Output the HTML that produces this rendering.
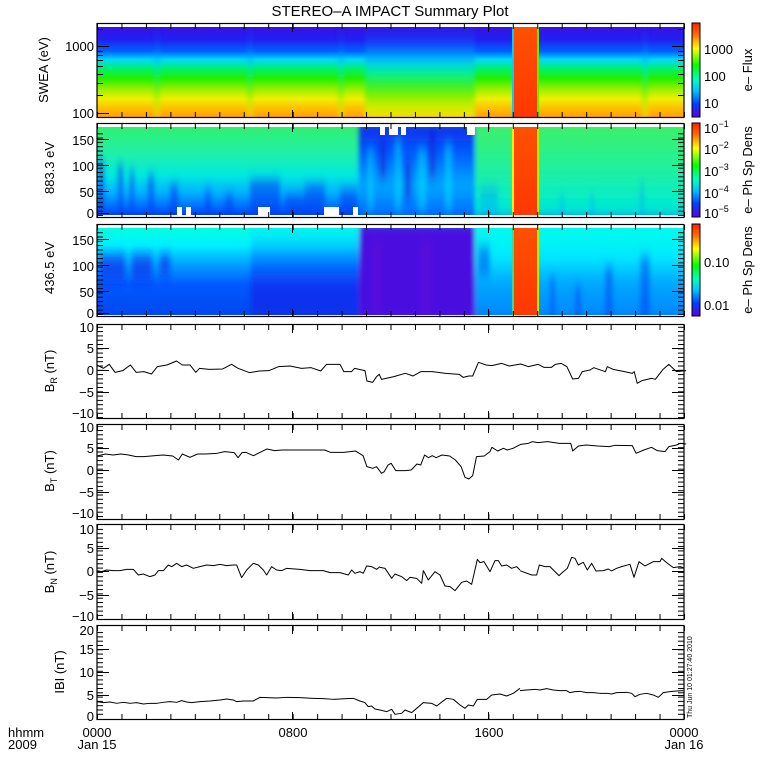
<!DOCTYPE html>
<html><head><meta charset="utf-8"><style>
html,body{margin:0;padding:0;background:#fff;}
svg{display:block;font-family:"Liberation Sans",sans-serif;}
</style></head><body>
<svg width="780" height="780" viewBox="0 0 780 780" xmlns="http://www.w3.org/2000/svg">
<defs>
<filter id="bl" x="-50%" y="-50%" width="200%" height="200%"><feGaussianBlur stdDeviation="2.5 6"/></filter>
<clipPath id="c1"><rect x="97" y="27" width="587" height="90"/></clipPath>
<clipPath id="c2"><rect x="97" y="127" width="587" height="88"/></clipPath>
<clipPath id="c3"><rect x="97" y="228" width="587" height="87"/></clipPath>
<linearGradient id="cb" x1="0" y1="0" x2="0" y2="1">
<stop offset="0" stop-color="#ff2000"/><stop offset="0.12" stop-color="#ff6a00"/><stop offset="0.27" stop-color="#ffff00"/><stop offset="0.45" stop-color="#00ff00"/><stop offset="0.6" stop-color="#00ffc0"/><stop offset="0.72" stop-color="#00c0ff"/><stop offset="0.86" stop-color="#0040ff"/><stop offset="1" stop-color="#6000e0"/>
</linearGradient>
<linearGradient id="g1" x1="0" y1="0" x2="0" y2="1">
<stop offset="0" stop-color="#3a10e8"/><stop offset="0.14" stop-color="#2020f0"/><stop offset="0.27" stop-color="#0060ff"/><stop offset="0.36" stop-color="#00d8ff"/><stop offset="0.46" stop-color="#00f070"/><stop offset="0.57" stop-color="#20f000"/><stop offset="0.7" stop-color="#a0f000"/><stop offset="0.8" stop-color="#f0f000"/><stop offset="0.9" stop-color="#ffc000"/><stop offset="1" stop-color="#ffa000"/>
</linearGradient>
<linearGradient id="g1m" x1="0" y1="0" x2="0" y2="1">
<stop offset="0" stop-color="#3a10e8"/><stop offset="0.16" stop-color="#2020f0"/><stop offset="0.3" stop-color="#0060ff"/><stop offset="0.4" stop-color="#00d8ff"/><stop offset="0.52" stop-color="#00f070"/><stop offset="0.66" stop-color="#40f000"/><stop offset="0.8" stop-color="#c0f000"/><stop offset="0.92" stop-color="#f8e000"/><stop offset="1" stop-color="#ffc000"/>
</linearGradient>
<linearGradient id="g2" x1="0" y1="0" x2="0" y2="1">
<stop offset="0" stop-color="#30f070"/><stop offset="0.3" stop-color="#20f0a8"/><stop offset="0.55" stop-color="#00e8e0"/><stop offset="0.75" stop-color="#00b0ff"/><stop offset="0.9" stop-color="#0070ff"/><stop offset="1" stop-color="#0040f0"/>
</linearGradient>
<linearGradient id="g2m" x1="0" y1="0" x2="0" y2="1">
<stop offset="0" stop-color="#1020e8"/><stop offset="0.35" stop-color="#0060ff"/><stop offset="0.65" stop-color="#00a8ff"/><stop offset="1" stop-color="#0060ff"/>
</linearGradient>
<linearGradient id="g2r" x1="0" y1="0" x2="0" y2="1">
<stop offset="0" stop-color="#40f060"/><stop offset="0.5" stop-color="#20f0a0"/><stop offset="0.85" stop-color="#00ecd0"/><stop offset="1" stop-color="#00d0e0"/>
</linearGradient>
<linearGradient id="g3" x1="0" y1="0" x2="0" y2="1">
<stop offset="0" stop-color="#00ffe0"/><stop offset="0.2" stop-color="#00f0ff"/><stop offset="0.42" stop-color="#00a0ff"/><stop offset="0.65" stop-color="#0058ff"/><stop offset="1" stop-color="#0048f0"/>
</linearGradient>
<linearGradient id="g3l" x1="0" y1="0" x2="0" y2="1">
<stop offset="0" stop-color="#00ffe0"/><stop offset="0.2" stop-color="#00e0ff"/><stop offset="0.42" stop-color="#0070ff"/><stop offset="0.65" stop-color="#1030f0"/><stop offset="1" stop-color="#1030e8"/>
</linearGradient>
<linearGradient id="g3r" x1="0" y1="0" x2="0" y2="1">
<stop offset="0" stop-color="#00ffe8"/><stop offset="0.35" stop-color="#00eaff"/><stop offset="0.6" stop-color="#00a8ff"/><stop offset="1" stop-color="#0080ff"/>
</linearGradient>
<linearGradient id="band" x1="0" y1="0" x2="0" y2="1">
<stop offset="0" stop-color="#ff5000"/><stop offset="1" stop-color="#ff3800"/>
</linearGradient>
<pattern id="xt" x="97" y="0" width="24.458" height="800" patternUnits="userSpaceOnUse"><rect x="0" y="0" width="1" height="800" fill="#000"/></pattern>
<pattern id="yt" x="0" y="0" width="10" height="4.3" patternUnits="userSpaceOnUse"><rect x="0" y="0" width="10" height="1" fill="#000"/></pattern>
</defs>

<text x="390" y="16" font-size="15" text-anchor="middle">STEREO–A IMPACT Summary Plot</text>

<!-- Panel 1 -->
<g clip-path="url(#c1)">
<rect x="97" y="27" width="587" height="90" fill="url(#g1)"/>
<g filter="url(#bl)">
<rect x="365" y="20" width="110" height="105" fill="url(#g1m)"/>
<rect x="154" y="20" width="6" height="105" fill="url(#g1m)" opacity="0.6"/>
<rect x="247" y="20" width="6" height="105" fill="url(#g1m)" opacity="0.6"/>
<rect x="338" y="20" width="6" height="105" fill="url(#g1m)" opacity="0.6"/>
<rect x="642" y="20" width="6" height="105" fill="url(#g1m)" opacity="0.7"/>
</g>
</g>
<rect x="513" y="27" width="25" height="90" fill="url(#band)"/>
<rect x="512" y="27" width="2" height="90" fill="#00d0ff"/>
<rect x="537" y="27" width="2" height="90" fill="#60f000"/>

<!-- Panel 2 -->
<g clip-path="url(#c2)">
<rect x="97" y="127" width="587" height="88" fill="url(#g2)"/>
<g opacity="0.6" fill="#0040f0" filter="url(#bl)">
<rect x="98" y="160" width="6" height="60"/><rect x="118" y="165" width="5" height="55"/><rect x="130" y="170" width="4" height="50"/>
<rect x="148" y="175" width="6" height="45"/><rect x="170" y="185" width="8" height="35"/><rect x="205" y="190" width="6" height="30"/>
<rect x="250" y="180" width="30" height="40"/><rect x="285" y="195" width="20" height="25"/><rect x="305" y="185" width="20" height="35"/>
<rect x="340" y="190" width="18" height="30"/><rect x="225" y="195" width="8" height="25"/>
</g>
<g filter="url(#bl)">
<rect x="359" y="120" width="116" height="100" fill="url(#g2m)"/>
<g opacity="0.5" fill="#00e8ff"><rect x="368" y="150" width="5" height="60"/><rect x="395" y="140" width="6" height="70"/><rect x="418" y="150" width="8" height="60"/><rect x="445" y="145" width="7" height="65"/></g>
<g opacity="0.6" fill="#1010d0"><rect x="380" y="140" width="6" height="40"/><rect x="405" y="160" width="6" height="40"/><rect x="430" y="130" width="5" height="50"/></g>
<rect x="475" y="120" width="215" height="100" fill="url(#g2r)"/>
<g opacity="0.4" fill="#00a0ff"><rect x="480" y="185" width="18" height="35"/><rect x="560" y="195" width="4" height="25"/><rect x="590" y="195" width="4" height="25"/><rect x="640" y="180" width="4" height="40"/></g>
</g>
</g>
<rect x="513" y="127" width="25" height="88" fill="url(#band)"/>
<rect x="512" y="127" width="2" height="88" fill="#f0f000"/>
<rect x="537" y="127" width="2" height="88" fill="#c0f000"/>
<g fill="#fff">
<rect x="177" y="207" width="5" height="9"/><rect x="186" y="207" width="5" height="9"/><rect x="258" y="207" width="12" height="9"/><rect x="324" y="207" width="15" height="9"/><rect x="353" y="207" width="5" height="9"/>
<rect x="380" y="126" width="5" height="9"/><rect x="389" y="126" width="9" height="9"/><rect x="401" y="126" width="5" height="9"/><rect x="467" y="126" width="8" height="9"/>
</g>

<!-- Panel 3 -->
<g clip-path="url(#c3)">
<rect x="97" y="228" width="587" height="87" fill="url(#g3)"/>
<g filter="url(#bl)">
<g opacity="0.6" fill="#1020e8"><rect x="100" y="255" width="25" height="25"/><rect x="132" y="255" width="20" height="25"/><rect x="160" y="255" width="10" height="20"/></g>
<rect x="251" y="222" width="108" height="100" fill="url(#g3l)"/>
<rect x="359" y="222" width="116" height="100" fill="#4a10e0"/>
<g opacity="0.5" fill="#6000d8"><rect x="372" y="240" width="10" height="75"/><rect x="420" y="240" width="12" height="75"/></g>
<rect x="475" y="222" width="215" height="100" fill="url(#g3r)"/>
<g opacity="0.5" fill="#0040f0"><rect x="478" y="245" width="12" height="30"/><rect x="550" y="275" width="5" height="45"/><rect x="575" y="285" width="6" height="35"/><rect x="605" y="265" width="8" height="55"/><rect x="640" y="255" width="10" height="65"/></g>
</g>
</g>
<rect x="513" y="228" width="25" height="87" fill="url(#band)"/>
<rect x="512" y="228" width="2" height="87" fill="#30e090"/>
<rect x="537" y="228" width="2" height="87" fill="#c0f000"/>

<!-- frames -->
<g fill="none" stroke="#000" stroke-width="1.2">
<rect x="97" y="23.5" width="587" height="94"/>
<rect x="97" y="123.5" width="587" height="94"/>
<rect x="97" y="224.5" width="587" height="92"/>
<rect x="97" y="324.5" width="587" height="94"/>
<rect x="97" y="424.5" width="587" height="95"/>
<rect x="97" y="524.5" width="587" height="95"/>
<rect x="97" y="625.5" width="587" height="94"/>
</g>

<g fill="url(#xt)">
<rect x="97" y="24" width="588" height="5"/><rect x="97" y="112" width="588" height="5"/>
<rect x="97" y="124" width="588" height="5"/><rect x="97" y="212" width="588" height="5"/>
<rect x="97" y="225" width="588" height="5"/><rect x="97" y="311" width="588" height="5"/>
<rect x="97" y="325" width="588" height="5"/><rect x="97" y="413" width="588" height="5"/>
<rect x="97" y="425" width="588" height="5"/><rect x="97" y="514" width="588" height="5"/>
<rect x="97" y="525" width="588" height="5"/><rect x="97" y="614" width="588" height="5"/>
<rect x="97" y="626" width="588" height="5"/><rect x="97" y="714" width="588" height="5"/>
</g>
<g fill="#000">
<rect x="292" y="24" width="1" height="8"/><rect x="488" y="24" width="1" height="8"/><rect x="292" y="110" width="1" height="8"/><rect x="488" y="110" width="1" height="8"/>
<rect x="292" y="124" width="1" height="8"/><rect x="488" y="124" width="1" height="8"/><rect x="292" y="210" width="1" height="8"/><rect x="488" y="210" width="1" height="8"/>
<rect x="292" y="225" width="1" height="8"/><rect x="488" y="225" width="1" height="8"/><rect x="292" y="309" width="1" height="8"/><rect x="488" y="309" width="1" height="8"/>
<rect x="292" y="325" width="1" height="8"/><rect x="488" y="325" width="1" height="8"/><rect x="292" y="411" width="1" height="8"/><rect x="488" y="411" width="1" height="8"/>
<rect x="292" y="425" width="1" height="8"/><rect x="488" y="425" width="1" height="8"/><rect x="292" y="512" width="1" height="8"/><rect x="488" y="512" width="1" height="8"/>
<rect x="292" y="525" width="1" height="8"/><rect x="488" y="525" width="1" height="8"/><rect x="292" y="612" width="1" height="8"/><rect x="488" y="612" width="1" height="8"/>
<rect x="292" y="626" width="1" height="8"/><rect x="488" y="626" width="1" height="8"/><rect x="292" y="712" width="1" height="8"/><rect x="488" y="712" width="1" height="8"/>
</g>

<g fill="url(#yt)">
<rect x="97" y="131" width="6" height="85"/><rect x="678" y="131" width="6" height="85"/>
<rect x="97" y="232" width="6" height="83"/><rect x="678" y="232" width="6" height="83"/>
<rect x="97" y="326" width="6" height="92"/><rect x="678" y="326" width="6" height="92"/>
<rect x="97" y="426" width="6" height="92"/><rect x="678" y="426" width="6" height="92"/>
<rect x="97" y="526" width="6" height="92"/><rect x="678" y="526" width="6" height="92"/>
<rect x="97" y="630" width="6" height="88"/><rect x="678" y="630" width="6" height="88"/>
</g>
<g fill="#000">
<rect x="97" y="46" width="12" height="1"/><rect x="97" y="113" width="12" height="1"/><rect x="672" y="46" width="12" height="1"/>
<rect x="97" y="95" width="6" height="1"/><rect x="97" y="83" width="6" height="1"/><rect x="97" y="74" width="6" height="1"/><rect x="97" y="66" width="6" height="1"/><rect x="97" y="60" width="6" height="1"/><rect x="97" y="55" width="6" height="1"/><rect x="97" y="51" width="6" height="1"/><rect x="97" y="29" width="6" height="1"/>
<rect x="678" y="95" width="6" height="1"/><rect x="678" y="83" width="6" height="1"/><rect x="678" y="74" width="6" height="1"/><rect x="678" y="66" width="6" height="1"/><rect x="678" y="60" width="6" height="1"/><rect x="678" y="55" width="6" height="1"/><rect x="678" y="51" width="6" height="1"/><rect x="678" y="29" width="6" height="1"/>
<rect x="97" y="139" width="12" height="1"/><rect x="97" y="165" width="12" height="1"/><rect x="97" y="191" width="12" height="1"/><rect x="97" y="213" width="12" height="1"/>
<rect x="672" y="139" width="12" height="1"/><rect x="672" y="165" width="12" height="1"/><rect x="672" y="191" width="12" height="1"/>
<rect x="97" y="239" width="12" height="1"/><rect x="97" y="265" width="12" height="1"/><rect x="97" y="291" width="12" height="1"/><rect x="97" y="313" width="12" height="1"/>
<rect x="672" y="239" width="12" height="1"/><rect x="672" y="265" width="12" height="1"/><rect x="672" y="291" width="12" height="1"/>
<rect x="97" y="348" width="12" height="1"/><rect x="97" y="370" width="12" height="1"/><rect x="97" y="392" width="12" height="1"/>
<rect x="672" y="348" width="12" height="1"/><rect x="672" y="370" width="12" height="1"/><rect x="672" y="392" width="12" height="1"/>
<rect x="97" y="448" width="12" height="1"/><rect x="97" y="470" width="12" height="1"/><rect x="97" y="492" width="12" height="1"/>
<rect x="672" y="448" width="12" height="1"/><rect x="672" y="470" width="12" height="1"/><rect x="672" y="492" width="12" height="1"/>
<rect x="97" y="548" width="12" height="1"/><rect x="97" y="571" width="12" height="1"/><rect x="97" y="595" width="12" height="1"/>
<rect x="672" y="548" width="12" height="1"/><rect x="672" y="571" width="12" height="1"/><rect x="672" y="595" width="12" height="1"/>
<rect x="97" y="649" width="12" height="1"/><rect x="97" y="672" width="12" height="1"/><rect x="97" y="695" width="12" height="1"/>
<rect x="672" y="649" width="12" height="1"/><rect x="672" y="672" width="12" height="1"/><rect x="672" y="695" width="12" height="1"/>
</g>

<g font-size="13" text-anchor="end">
<text x="94" y="51">1000</text><text x="94" y="118">100</text>
<text x="94" y="145">150</text><text x="94" y="171">100</text><text x="94" y="197">50</text><text x="94" y="218">0</text>
<text x="94" y="245">150</text><text x="94" y="271">100</text><text x="94" y="297">50</text><text x="94" y="318">0</text>
<text x="94" y="332">10</text><text x="94" y="353">5</text><text x="94" y="375">0</text><text x="94" y="397">−5</text><text x="94" y="418">−10</text>
<text x="94" y="432">10</text><text x="94" y="453">5</text><text x="94" y="475">0</text><text x="94" y="497">−5</text><text x="94" y="518">−10</text>
<text x="94" y="534">10</text><text x="94" y="553">5</text><text x="94" y="576">0</text><text x="94" y="600">−5</text><text x="94" y="621">−10</text>
<text x="94" y="635">20</text><text x="94" y="654">15</text><text x="94" y="677">10</text><text x="94" y="700">5</text><text x="94" y="721">0</text>
</g>

<g font-size="13" text-anchor="middle">
<text transform="translate(48,70) rotate(-90)">SWEA (eV)</text>
<text transform="translate(54,168) rotate(-90)">883.3 eV</text>
<text transform="translate(54,268) rotate(-90)">436.5 eV</text>
<text transform="translate(54,371) rotate(-90)">B<tspan font-size="9" dy="3">R</tspan><tspan dy="-3"> (nT)</tspan></text>
<text transform="translate(54,471) rotate(-90)">B<tspan font-size="9" dy="3">T</tspan><tspan dy="-3"> (nT)</tspan></text>
<text transform="translate(54,572) rotate(-90)">B<tspan font-size="9" dy="3">N</tspan><tspan dy="-3"> (nT)</tspan></text>
<text transform="translate(64,672) rotate(-90)">IBI (nT)</text>
</g>

<rect x="692" y="23" width="8" height="94" fill="url(#cb)" stroke="#000" stroke-width="1"/>
<rect x="692" y="123" width="8" height="94" fill="url(#cb)" stroke="#000" stroke-width="1"/>
<rect x="692" y="224" width="8" height="92" fill="url(#cb)" stroke="#000" stroke-width="1"/>
<g font-size="13">
<text x="704" y="54">1000</text><text x="704" y="81">100</text><text x="704" y="108">10</text>
<text x="704" y="133">10<tspan font-size="9" dy="-6">−1</tspan></text>
<text x="704" y="154">10<tspan font-size="9" dy="-6">−2</tspan></text>
<text x="704" y="176">10<tspan font-size="9" dy="-6">−3</tspan></text>
<text x="704" y="198">10<tspan font-size="9" dy="-6">−4</tspan></text>
<text x="704" y="218">10<tspan font-size="9" dy="-6">−5</tspan></text>
<text x="704" y="267">0.10</text><text x="704" y="310">0.01</text>
</g>
<g font-size="13" text-anchor="middle">
<text transform="translate(752,70) rotate(-90)">e– Flux</text>
<text transform="translate(752,170) rotate(-90)">e– Ph Sp Dens</text>
<text transform="translate(752,270) rotate(-90)">e– Ph Sp Dens</text>
</g>
<text transform="translate(692,718) rotate(-90)" font-size="7">Thu Jun 10 01:27:40 2010</text>

<g fill="none" stroke="#000" stroke-width="1" stroke-linejoin="round">
<g transform="translate(90,320) scale(0.3846,0.3333)">
<polyline vector-effect="non-scaling-stroke" points="18,135 35,145 50,133 65,157 85,152 105,135 120,157 140,155 160,162 175,140 200,135 225,123 240,135 260,135 275,157 285,145 310,148 345,147 368,133 385,145 415,158 440,153 465,152 490,140 520,138 550,145 575,143 600,153 615,133 650,133 660,155 680,155 688,145 715,152 720,183 735,187 745,170 752,163 758,178 790,170 820,160 840,168 860,155 890,155 925,160 960,163 970,172 985,168 995,168 1010,127 1030,135 1045,137 1070,130 1090,138 1120,132 1140,140 1165,133 1180,142 1200,142 1210,133 1225,130 1240,140 1255,177 1270,175 1280,155 1300,150 1310,143 1340,155 1345,140 1360,148 1390,155 1410,160 1415,155 1423,190 1435,182 1460,175 1470,178 1490,148 1505,133 1525,155 1550,152"/>
<polyline vector-effect="non-scaling-stroke" points="18,408 40,402 60,405 80,402 100,405 120,410 140,410 170,407 190,405 215,408 230,420 240,402 260,412 280,402 300,402 330,400 350,395 375,398 385,413 395,398 405,397 425,407 460,387 480,392 500,390 530,390 610,390 625,397 660,397 690,393 710,407 720,440 735,445 745,440 758,460 765,455 775,435 783,430 795,452 820,452 835,450 850,432 860,435 870,405 880,413 890,407 900,413 915,405 935,408 950,420 965,440 975,472 985,477 995,467 1005,410 1025,408 1040,395 1045,382 1060,393 1075,385 1085,390 1100,385 1120,373 1140,370 1150,365 1165,368 1190,365 1220,370 1250,370 1255,393 1270,378 1290,375 1320,378 1350,380 1365,376 1410,377 1420,400 1440,390 1460,382 1475,392 1495,395 1505,380 1525,375 1535,370 1550,372"/>
</g>
<g transform="translate(0,500) scale(0.3333)">
<polyline vector-effect="non-scaling-stroke" points="290,212 305,215 320,210 340,212 360,212 380,208 400,208 415,225 430,222 450,230 465,225 475,212 490,212 505,195 515,200 530,190 545,200 560,195 580,205 600,200 620,195 640,197 660,193 680,197 700,195 710,195 725,233 740,210 760,190 775,195 790,210 800,225 815,200 830,210 845,212 860,205 900,208 930,212 970,212 990,218 1020,218 1045,225 1055,210 1065,220 1080,215 1090,220 1100,198 1115,200 1130,208 1140,200"/>
<polyline vector-effect="non-scaling-stroke" points="290,605 310,608 330,606 350,610 370,607 390,610 410,608 430,612 450,610 470,610 490,607 510,605 530,607 545,602 560,606 575,608 600,605 630,603 660,600 680,597 700,600 710,605 730,603 760,603 780,592 800,593 830,594 860,592 900,593 940,595 970,596 1000,598 1040,596 1060,595 1080,603 1095,608 1105,620 1115,618 1125,627 1140,630"/>
</g>
<g transform="translate(380,520) scale(0.3333)">
<polyline vector-effect="non-scaling-stroke" points="0,142 15,145 35,175 45,162 65,170 80,182 90,172 110,175 125,190 130,152 145,180 165,155 180,165 195,198 210,200 225,212 245,187 260,183 275,193 292,118 300,128 312,125 330,155 345,122 355,122 365,138 380,135 395,145 410,140 420,150"/>
<polyline vector-effect="non-scaling-stroke" points="0,570 20,575 35,568 45,583 65,580 75,570 95,578 110,565 130,548 155,550 170,558 200,535 220,538 240,555 255,565 265,555 280,558 292,538 320,538 335,525 360,522 380,528 400,520 420,505"/>
</g>
<g transform="translate(480,500) scale(0.3333)">
<polyline vector-effect="non-scaling-stroke" points="120,212 155,225 170,225 178,195 195,200 210,200 220,210 237,227 250,215 262,205 275,172 285,175 295,195 310,187 322,210 335,190 348,213 370,212 385,207 395,213 410,205 425,200 450,193 462,232 477,185 495,198 520,185 540,185 545,175 560,188 580,203 600,200 610,203"/>
<polyline vector-effect="non-scaling-stroke" points="120,572 140,570 165,568 180,570 200,566 220,570 240,572 260,572 270,578 285,575 300,574 320,578 340,578 360,580 380,580 395,582 410,578 440,577 455,580 465,590 480,583 500,580 520,585 535,592 550,578 570,575 590,573 610,572"/>
</g>
</g>

<g font-size="13">
<text x="8" y="737">hhmm</text><text x="8" y="749">2009</text>
<text x="97" y="737" text-anchor="middle">0000</text><text x="97" y="749" text-anchor="middle">Jan 15</text>
<text x="293" y="737" text-anchor="middle">0800</text>
<text x="489" y="737" text-anchor="middle">1600</text>
<text x="684" y="737" text-anchor="middle">0000</text><text x="684" y="749" text-anchor="middle">Jan 16</text>
</g>
</svg>
</body></html>
